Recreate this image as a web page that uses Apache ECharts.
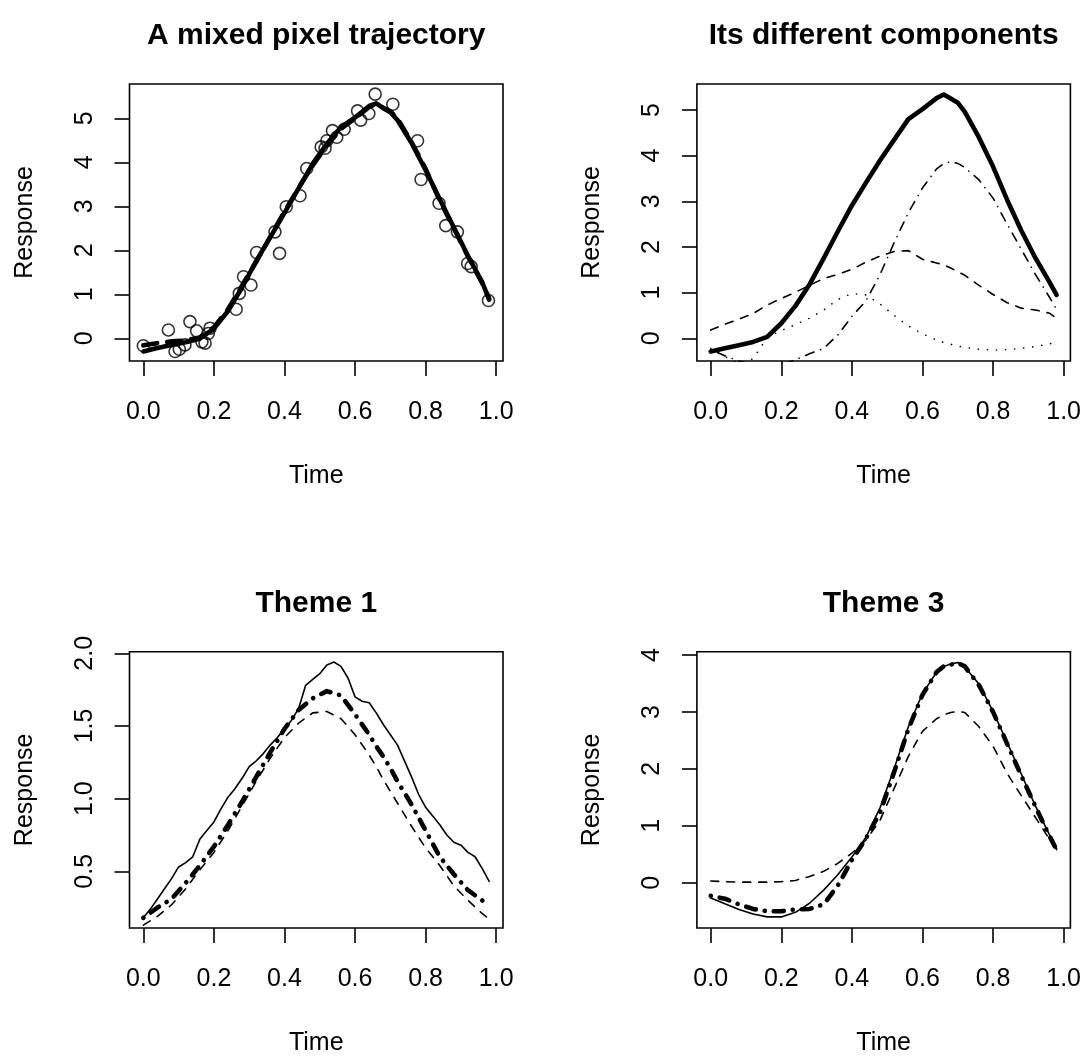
<!DOCTYPE html>
<html>
<head>
<meta charset="utf-8">
<script src="https://cdn.jsdelivr.net/npm/echarts@6/dist/echarts.min.js"></script>
<style>
  html, body { margin: 0; padding: 0; background: #fff; }
  #chart { width: 1088px; height: 1057px; }
</style>
</head>
<body>
<div id="chart"></div>
<script>
// time grid shared by most curves
const times = [0, 0.04, 0.08, 0.12, 0.16, 0.20, 0.24, 0.28, 0.32, 0.36, 0.40, 0.44, 0.48, 0.52,
  0.56, 0.60, 0.64, 0.66, 0.68, 0.70, 0.72, 0.76, 0.80, 0.84, 0.88, 0.92, 0.96, 0.98]
// finer grid for the jagged theme 1 curve
const timesFine = [0, 0.02, 0.04, 0.06, 0.08, 0.10, 0.12, 0.14, 0.16, 0.18, 0.20, 0.22, 0.24, 0.26,
  0.28, 0.30, 0.32, 0.34, 0.36, 0.38, 0.40, 0.42, 0.44, 0.46, 0.48, 0.50, 0.52, 0.54, 0.56, 0.58,
  0.60, 0.62, 0.64, 0.66, 0.68, 0.70, 0.72, 0.74, 0.76, 0.78, 0.80, 0.82, 0.84, 0.86, 0.88, 0.90,
  0.92, 0.94, 0.96, 0.98]

// panel 1: observed points and the two thick curves
const obsTime = [0.000, 0.071, 0.090, 0.102, 0.118, 0.132, 0.151, 0.166, 0.175, 0.184, 0.189,
  0.263, 0.272, 0.284, 0.305, 0.321, 0.373, 0.386, 0.405, 0.444, 0.463, 0.504, 0.515, 0.520,
  0.536, 0.548, 0.569, 0.607, 0.616, 0.639, 0.657, 0.707, 0.777, 0.787, 0.838, 0.857, 0.890,
  0.919, 0.929, 0.978]
const obsValue = [-0.17, 0.19, -0.30, -0.25, -0.15, 0.38, 0.17, -0.08, -0.11, 0.11, 0.23,
  0.66, 1.02, 1.40, 1.21, 1.95, 2.42, 1.93, 2.99, 3.24, 3.86, 4.35, 4.32, 4.49,
  4.72, 4.57, 4.75, 5.17, 4.96, 5.11, 5.55, 5.32, 4.49, 3.61, 3.07, 2.56, 2.42,
  1.70, 1.63, 0.86]
const fitSolid = [-0.30, -0.22, -0.15, -0.09, -0.01, 0.22, 0.62, 1.16, 1.76, 2.30, 2.85, 3.41, 3.97, 4.42,
  4.80, 5.02, 5.28, 5.34, 5.23, 5.14, 4.96, 4.44, 3.82, 3.16, 2.52, 1.87, 1.28, 0.88]
const fitDashed = [-0.16, -0.11, -0.07, -0.05, 0.02, 0.25, 0.66, 1.20, 1.74, 2.31, 2.88, 3.42, 3.93, 4.38,
  4.76, 5.00, 5.26, 5.32, 5.24, 5.16, 5.00, 4.46, 3.85, 3.13, 2.50, 1.86, 1.26, 0.90]

// panel 2: mixture and its components
const mixed = [-0.29, -0.22, -0.15, -0.08, 0.03, 0.33, 0.71, 1.18, 1.75, 2.34, 2.91, 3.41, 3.90, 4.35,
  4.80, 5.02, 5.26, 5.34, 5.25, 5.16, 4.96, 4.40, 3.76, 3.03, 2.36, 1.76, 1.23, 0.95]
const comp1 = [0.18, 0.31, 0.42, 0.54, 0.73, 0.87, 1.01, 1.16, 1.31, 1.40, 1.51, 1.67, 1.80, 1.90,
  1.92, 1.73, 1.65, 1.61, 1.54, 1.46, 1.38, 1.16, 0.96, 0.78, 0.66, 0.62, 0.55, 0.44]
const comp2 = [-0.22, -0.40, -0.55, -0.45, 0.02, 0.17, 0.30, 0.44, 0.62, 0.85, 0.98, 0.95, 0.75, 0.50,
  0.27, 0.10, -0.04, -0.09, -0.13, -0.17, -0.20, -0.24, -0.26, -0.25, -0.22, -0.18, -0.12, -0.10]
const comp3 = [-0.25, -0.38, -0.50, -0.57, -0.61, -0.59, -0.47, -0.34, -0.22, 0.07, 0.48, 0.82, 1.40, 2.10,
  2.75, 3.29, 3.71, 3.82, 3.87, 3.83, 3.74, 3.47, 3.07, 2.50, 1.95, 1.40, 0.90, 0.63]

// panel 3: theme 1
const theme1True = [0.18, 0.24, 0.31, 0.38, 0.45, 0.53, 0.56, 0.60, 0.72, 0.78, 0.84, 0.93, 1.01, 1.07,
  1.14, 1.22, 1.26, 1.31, 1.37, 1.42, 1.48, 1.54, 1.62, 1.78, 1.82, 1.86, 1.92, 1.94, 1.91, 1.83,
  1.70, 1.67, 1.66, 1.59, 1.51, 1.44, 1.37, 1.26, 1.15, 1.03, 0.94, 0.88, 0.82, 0.75, 0.70, 0.68,
  0.63, 0.60, 0.52, 0.43]
const theme1Dashed = [0.13, 0.19, 0.27, 0.38, 0.51, 0.63, 0.78, 0.95, 1.12, 1.28, 1.42, 1.52, 1.59, 1.60,
  1.55, 1.44, 1.30, 1.22, 1.13, 1.05, 0.97, 0.81, 0.66, 0.54, 0.40, 0.30, 0.21, 0.17]
const theme1DashDot = [0.18, 0.25, 0.31, 0.42, 0.54, 0.67, 0.82, 0.98, 1.15, 1.32, 1.48, 1.61, 1.69, 1.74,
  1.71, 1.58, 1.44, 1.36, 1.29, 1.21, 1.12, 0.96, 0.78, 0.60, 0.48, 0.37, 0.30, 0.26]

// panel 4: theme 3
const theme3True = [-0.27, -0.37, -0.47, -0.55, -0.60, -0.60, -0.52, -0.36, -0.13, 0.14, 0.45, 0.80, 1.32, 2.01,
  2.74, 3.32, 3.70, 3.80, 3.84, 3.87, 3.79, 3.49, 3.01, 2.46, 1.91, 1.35, 0.84, 0.58]
const theme3Dashed = [0.03, 0.02, 0.01, 0.01, 0.01, 0.02, 0.04, 0.11, 0.20, 0.34, 0.52, 0.75, 1.10, 1.66,
  2.22, 2.66, 2.88, 2.95, 2.99, 3.01, 2.99, 2.74, 2.40, 1.92, 1.53, 1.15, 0.76, 0.60]
const theme3DashDot = [-0.23, -0.28, -0.38, -0.46, -0.50, -0.50, -0.47, -0.46, -0.38, -0.05, 0.40, 0.78, 1.24, 1.95,
  2.70, 3.30, 3.70, 3.80, 3.83, 3.86, 3.80, 3.47, 3.00, 2.44, 1.88, 1.34, 0.82, 0.58]

const xTicks = [0, 0.2, 0.4, 0.6, 0.8, 1.0]
const yTicks1 = [0, 1, 2, 3, 4, 5]
const yTicks2 = [0, 1, 2, 3, 4, 5]
const yTicks3 = [0.5, 1.0, 1.5, 2.0]
const yTicks4 = [0, 1, 2, 3, 4]
const titles = ['A mixed pixel trajectory', 'Its different components', 'Theme 1', 'Theme 3']

const FONT = 'Liberation Sans, Arial, Helvetica, sans-serif'
const THIN = 1.6
const THICK = 4.6

// plot boxes (R adds 4% to each side of the data range)
const boxes = [
  { left: 129.5, top: 84, ymin: -0.516, ymax: 5.78, ticks: yTicks1, dec: 0 },
  { left: 696.9, top: 84, ymin: -0.497, ymax: 5.569, ticks: yTicks2, dec: 0 },
  { left: 129.5, top: 651.7, ymin: 0.110, ymax: 2.011, ticks: yTicks3, dec: 1 },
  { left: 696.9, top: 651.7, ymin: -0.795, ymax: 4.058, ticks: yTicks4, dec: 0 }
]
const boxW = 373.5
const boxH = 277

function pairs(ts, vs) {
  return ts.map((t, i) => [t, vs[i]])
}

function line(gi, ts, vs, width, dash) {
  return {
    type: 'line',
    xAxisIndex: gi,
    yAxisIndex: gi,
    data: pairs(ts, vs),
    showSymbol: false,
    symbol: 'none',
    silent: true,
    z: 3,
    lineStyle: {
      color: '#000',
      width: width,
      type: dash || 'solid',
      cap: 'round',
      join: 'round'
    }
  }
}

const axisText = { fontFamily: FONT, fontSize: 25, color: '#000' }

const chart = echarts.init(document.getElementById('chart'), null, { renderer: 'canvas' })
chart.setOption({
  animation: false,
  backgroundColor: '#fff',
  graphic: titles.map((t, i) => ({
    type: 'text',
    x: boxes[i].left + boxW / 2,
    y: boxes[i].top - 48,
    style: {
      text: t,
      fill: '#000',
      font: 'bold 30px ' + FONT,
      align: 'center',
      verticalAlign: 'middle'
    }
  })),
  grid: boxes.map(b => ({
    left: b.left,
    top: b.top,
    width: boxW,
    height: boxH,
    show: true,
    borderColor: '#000',
    borderWidth: 1.6,
    backgroundColor: 'transparent'
  })),
  xAxis: boxes.map((b, i) => ({
    gridIndex: i,
    type: 'value',
    min: -0.0392,
    max: 1.0192,
    axisLine: { show: false, onZero: false },
    splitLine: { show: false },
    axisTick: { show: true, length: 15, customValues: xTicks, lineStyle: { color: '#000', width: 1.6 } },
    axisLabel: { ...axisText, margin: 39, customValues: xTicks, formatter: v => v.toFixed(1) },
    name: 'Time',
    nameLocation: 'middle',
    nameGap: 103,
    nameTextStyle: axisText
  })),
  yAxis: boxes.map((b, i) => ({
    gridIndex: i,
    type: 'value',
    min: b.ymin,
    max: b.ymax,
    axisLine: { show: false, onZero: false },
    splitLine: { show: false },
    axisTick: { show: true, length: 15, customValues: b.ticks, lineStyle: { color: '#000', width: 1.6 } },
    axisLabel: { ...axisText, margin: 32, rotate: 90, customValues: b.ticks, formatter: v => v.toFixed(b.dec) },
    name: 'Response',
    nameLocation: 'middle',
    nameRotate: 90,
    nameGap: 92,
    nameTextStyle: axisText
  })),
  series: [
    {
      type: 'scatter',
      xAxisIndex: 0,
      yAxisIndex: 0,
      data: pairs(obsTime, obsValue),
      symbol: 'circle',
      symbolSize: 12,
      silent: true,
      z: 2,
      itemStyle: { color: 'rgba(0,0,0,0)', borderColor: '#000', borderWidth: 1.6 }
    },
    line(0, times, fitDashed, THICK, [14, 10]),
    line(0, times, fitSolid, THICK),

    line(1, times, mixed, THICK),
    line(1, times, comp1, THIN, [8, 8]),
    line(1, times, comp2, THIN, [0.1, 9]),
    line(1, times, comp3, THIN, [0.1, 7, 9, 7]),

    line(2, timesFine, theme1True, THIN),
    line(2, times, theme1Dashed, THIN, [8, 8]),
    line(2, times, theme1DashDot, THICK, [0.1, 9, 10, 9]),

    line(3, times, theme3True, THIN),
    line(3, times, theme3Dashed, THIN, [8, 8]),
    line(3, times, theme3DashDot, THICK, [0.1, 9, 10, 9])
  ]
})
</script>
</body>
</html>
